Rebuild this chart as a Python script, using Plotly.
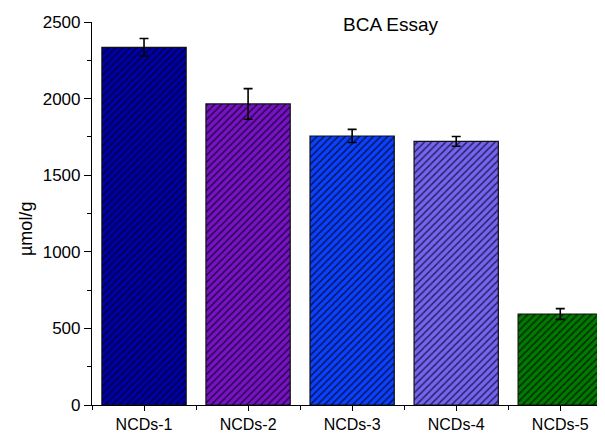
import plotly.graph_objects as go

categories = ["NCDs-1", "NCDs-2", "NCDs-3", "NCDs-4", "NCDs-5"]
values = [2335, 1965, 1756, 1721, 594]
errors = [57, 100, 43, 32, 35]
colors = ["#0000a8", "#7812c8", "#0a40ff", "#7464f2", "#007a00"]
hatch_colors = ["#000040", "#2a0645", "#03165a", "#2a2360", "#002a00"]
y_ticks = [0, 500, 1000, 1500, 2000, 2500]

xpos = list(range(len(categories)))
FONT = "Liberation Sans, Arial, sans-serif"

# page body has an 8px margin; compensate so the plot lands where the reference has it
W, H = 605 - 8, 433 - 8
L, T, B = 92 - 8, 22 - 8, 433 - 405

fig = go.Figure()
for i, cat in enumerate(categories):
    fig.add_trace(go.Bar(
        x=[xpos[i]], y=[values[i]], width=0.81, name=cat,
        marker=dict(
            color=colors[i],
            line=dict(color="#111111", width=1.2),
            pattern=dict(shape="/", size=5, solidity=0.3, fgcolor=hatch_colors[i],
                         bgcolor=colors[i], fillmode="replace"),
        ),
        error_y=dict(type="data", array=[errors[i]], visible=True, color="black", thickness=1.6, width=4.5),
        showlegend=False,
    ))

plot_w = W - L
plot_h = H - T - B
fig.update_layout(
    width=W, height=H, barmode="overlay",
    margin=dict(l=L, r=0, t=T, b=B, autoexpand=False),
    plot_bgcolor="white", paper_bgcolor="white",
    font=dict(family=FONT, size=17, color="black"),
    annotations=[
        dict(text="BCA Essay", xref="paper", yref="paper",
             x=(391 - 92) / plot_w, y=1 - (24 - 22) / plot_h,
             xanchor="center", yanchor="middle", showarrow=False, font=dict(size=19)),
        dict(text="µmol/g", xref="paper", yref="paper", textangle=-90,
             x=(26 - 92) / plot_w, y=(405 - 229) / plot_h,
             xanchor="center", yanchor="middle", showarrow=False, font=dict(size=18)),
    ],
)

fig.update_xaxes(
    range=[-0.5, 4.43], tickmode="array", tickvals=xpos, ticktext=categories,
    showline=True, linecolor="black", linewidth=1.2,
    ticks="outside", ticklen=5, tickwidth=1.2, tickcolor="black",
    minor=dict(tickmode="linear", tick0=0.5, dtick=1, ticks="outside", ticklen=4, tickwidth=1.2, tickcolor="black"),
    showgrid=False, zeroline=False, tickfont=dict(size=16),
)
fig.update_yaxes(
    range=[0, 2500], tickvals=y_ticks,
    showline=True, linecolor="black", linewidth=1.2,
    ticks="outside", ticklen=7, tickwidth=1.2, tickcolor="black",
    minor=dict(tickmode="linear", tick0=0, dtick=250, ticks="outside", ticklen=4, tickwidth=1.2, tickcolor="black"),
    showgrid=False, zeroline=False, tickfont=dict(size=17),
)

fig.write_html("out.html")
